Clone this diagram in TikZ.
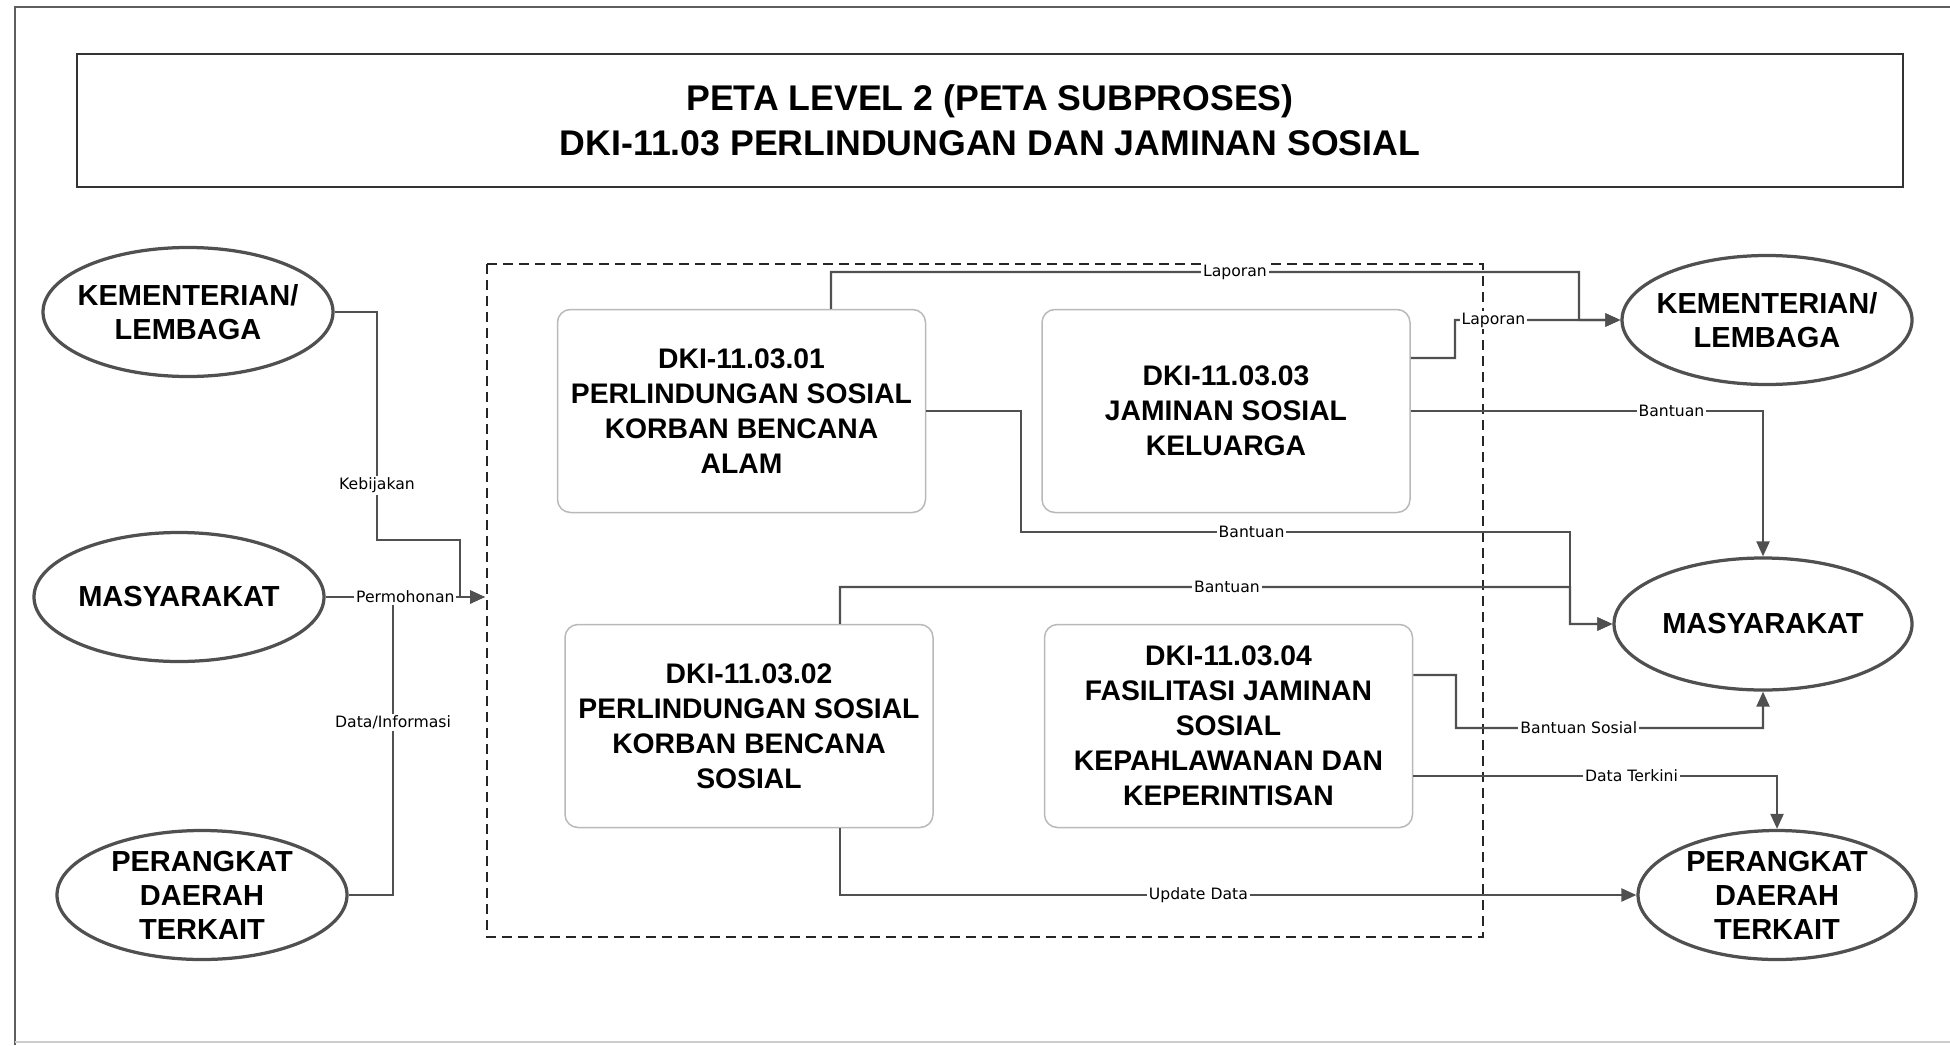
\documentclass[tikz,border=0pt]{standalone}
\usepackage{fontspec}
\setmainfont{Liberation Sans}
\newfontfamily\lblfont{DejaVu Sans}
\usepackage{tikz}
\usetikzlibrary{arrows.meta,shapes.geometric}
\definecolor{linegray}{RGB}{80,80,80}
\definecolor{boxgray}{RGB}{185,185,185}
\definecolor{framegray}{RGB}{95,95,95}

\begin{document}
\begin{tikzpicture}[x=0.2mm,y=-0.2mm,
  tbox/.style={rectangle,draw=black!80,line width=0.4mm,minimum width=365.2mm,minimum height=26.6mm,
    font=\fontsize{20.3}{25.6}\selectfont\bfseries,align=center},
  ebox/.style={ellipse,draw=linegray,line width=0.65mm,inner sep=-5mm,minimum width=58mm,minimum height=25.8mm,
    font=\fontsize{16.5}{19.4}\selectfont\bfseries,align=center},
  pbox/.style={rectangle,rounded corners=2.6mm,draw=boxgray,line width=0.3mm,minimum width=73.6mm,minimum height=40.6mm,
    font=\fontsize{16.1}{19.9}\selectfont\bfseries,align=center},
  plin/.style={draw=linegray,line width=0.45mm},
  parr/.style={plin,-{Triangle[length=3mm,width=2.6mm]}},
  plab/.style={font=\lblfont\fontsize{8.9}{10}\selectfont,fill=white,inner sep=0.4mm}
]
\useasboundingbox (0,0) rectangle (1950,1045);
\draw[framegray,line width=0.5mm] (1950,7) -- (15,7) -- (15,1045);
\draw[black!20,line width=0.3mm] (15,1042) -- (1950,1042);

\node[tbox] (title) at (990,120.5) {PETA LEVEL 2 (PETA SUBPROSES)\\DKI-11.03 PERLINDUNGAN DAN JAMINAN SOSIAL};

\draw[black!85,line width=0.35mm,dash pattern=on 2mm off 1.2mm] (487,264) rectangle (1483,937);

\node[ebox] (kl1) at (188,312) {KEMENTERIAN/\\LEMBAGA};
\node[ebox] (ms1) at (179,597) {MASYARAKAT};
\node[ebox] (pd1) at (202,895) {PERANGKAT\\DAERAH\\TERKAIT};
\node[ebox] (kl2) at (1767,320) {KEMENTERIAN/\\LEMBAGA};
\node[ebox,minimum width=59.6mm,minimum height=26.4mm] (ms2) at (1763,624) {MASYARAKAT};
\node[ebox,minimum width=55.6mm] (pd2) at (1777,895) {PERANGKAT\\DAERAH\\TERKAIT};

\node[pbox] (p1) at (741.5,411) {DKI-11.03.01\\PERLINDUNGAN SOSIAL\\KORBAN BENCANA\\ALAM};
\node[pbox] (p3) at (1226,411) {DKI-11.03.03\\JAMINAN SOSIAL\\KELUARGA};
\node[pbox] (p2) at (749,726) {DKI-11.03.02\\PERLINDUNGAN SOSIAL\\KORBAN BENCANA\\SOSIAL};
\node[pbox] (p4) at (1228.5,726) {DKI-11.03.04\\FASILITASI JAMINAN\\SOSIAL\\KEPAHLAWANAN DAN\\KEPERINTISAN};

\coordinate (inpt) at (485,597);

% masukan dari kiri
\draw[plin] (pd1.east) -- (393,895) -- node[plab,pos=0.58] (ldat) {Data/Informasi} (393,597);
\draw[parr] (kl1.east) -- (377,312) -- node[plab,pos=0.76] (lkeb) {Kebijakan} (377,540) -- (460,540) -- (460,597) -- (inpt);
\draw[parr] (ms1.east) -- node[plab] (lper) {Permohonan} (inpt);

% keluaran ke kanan
\draw[parr] ([xshift=17.9mm]p1.north) -- (831,272) -- node[plab,pos=0.54] (llap1) {Laporan} (1579,272) -- (1579,320) -- (kl2.west);
\draw[parr] ([yshift=10.6mm]p3.east) -- (1455,358) -- (1455,320) -- node[plab,pos=0.31] (llap2) {Laporan} (1579,320) -- (kl2.west);
\draw[parr] (p3.east) -| node[plab,pos=0.37] (lban3) {Bantuan} (ms2.north);
\draw[parr] (p1.east) -- (1021,411) -- (1021,532) -- node[plab,pos=0.42] (lban1) {Bantuan} (1570,532) -- (1570,624) -- (ms2.west);
\draw[parr] ([xshift=18.2mm]p2.north) -- (840,587) -- node[plab,pos=0.53] (lban2) {Bantuan} (1570,587) -- (1570,624) -- (ms2.west);
\draw[parr] ([yshift=10.2mm]p4.east) -- (1456,675) -- (1456,728) -- node[plab,pos=0.4] (lbsos) {Bantuan Sosial} (1763,728) -- (ms2.south);
\draw[parr] ([yshift=-10mm]p4.east) -| node[plab,pos=0.3] (lterk) {Data Terkini} (pd2.north);
\draw[parr] ([xshift=18.2mm]p2.south) |- node[plab,pos=0.725] (lupd) {Update Data} (pd2.west);
\end{tikzpicture}
\end{document}
